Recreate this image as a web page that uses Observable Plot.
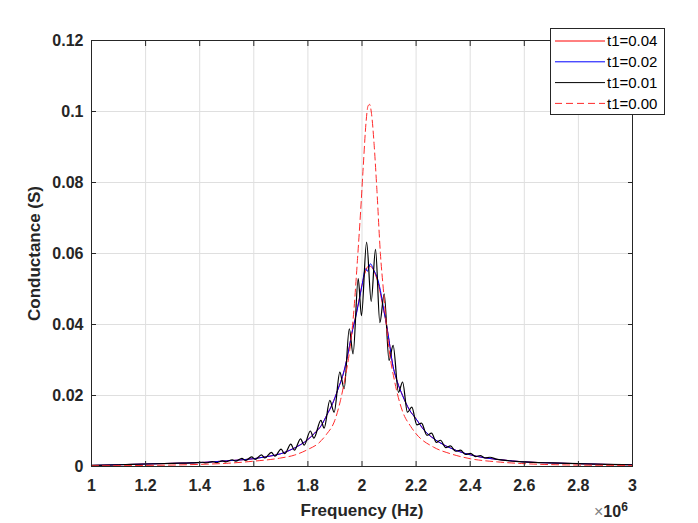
<!DOCTYPE html>
<html><head><meta charset="utf-8">
<script src="https://cdn.jsdelivr.net/npm/d3@7"></script>
<script src="https://cdn.jsdelivr.net/npm/@observablehq/plot@0.6"></script>
<style>
body{margin:0;background:#fff;}
#wrap{position:relative;width:698px;height:523px;font-family:"Liberation Sans",Arial,sans-serif;background:#fff;overflow:hidden;}
#legend{position:absolute;left:550px;top:28px;}
#expo{position:absolute;left:594px;top:501px;font-size:16px;line-height:18px;font-weight:bold;color:#262626;white-space:nowrap;}
#expo .x{font-weight:normal;color:#808080;}
#expo sup{font-size:12px;line-height:12px;vertical-align:6px;}
</style></head><body><div id="wrap"></div>
<script>
// ---- data (frequency in units of 1e6 Hz, conductance in S) ----
const xTicks = [1, 1.2, 1.4, 1.6, 1.8, 2, 2.2, 2.4, 2.6, 2.8, 3];
const xTickLabels = ["1","1.2","1.4","1.6","1.8","2","2.2","2.4","2.6","2.8","3"];
const yTicks = [0, 0.02, 0.04, 0.06, 0.08, 0.1, 0.12];
const yTickLabels = ["0","0.02","0.04","0.06","0.08","0.1","0.12"];

const seriesNames = ["t1=0.04", "t1=0.02", "t1=0.01", "t1=0.00"];
const seriesColors = ["#ff0000", "#0000ff", "#000000", "#ff2a2a"];
const seriesWidths = [1, 1, 1.2, 1];
const seriesDash = [null, null, null, "7,4"];

// t1=0.04 (red, smooth)
const f004 = [1.0,1.1,1.2,1.3,1.4,1.5,1.6,1.65,1.7,1.75,1.8,1.825,1.85,1.87,1.891,1.91,1.934,1.95,1.965,1.975,1.988,2.0,2.013,2.025,2.038,2.05,2.062,2.075,2.09,2.1,2.113,2.13,2.15,2.175,2.2,2.23,2.266,2.3,2.327,2.36,2.4,2.45,2.512,2.6,2.7,2.8,2.9,3.0];
const g004 = [0.0003,0.0005,0.0007,0.0009,0.0011,0.0016,0.0022,0.0028,0.0036,0.0052,0.0076,0.0094,0.0116,0.0145,0.0177,0.0215,0.0270,0.0325,0.0385,0.0418,0.0465,0.0512,0.0550,0.0565,0.0560,0.0540,0.0510,0.0460,0.0402,0.0355,0.0289,0.0240,0.0200,0.0160,0.0134,0.0102,0.0078,0.0062,0.0052,0.0042,0.0033,0.0025,0.0019,0.0013,0.0010,0.0008,0.0006,0.0005];

// t1=0.02 (blue)
const f002 = [1.0,1.1,1.2,1.3,1.4,1.5,1.6,1.65,1.7,1.75,1.8,1.825,1.85,1.87,1.891,1.91,1.934,1.95,1.965,1.975,1.988,2.0,2.013,2.02,2.031,2.044,2.056,2.068,2.081,2.09,2.1,2.113,2.13,2.15,2.175,2.2,2.23,2.266,2.3,2.327,2.36,2.4,2.45,2.512,2.6,2.7,2.8,2.9,3.0];
const g002 = [0.0003,0.0005,0.0007,0.0009,0.0011,0.0016,0.0022,0.0028,0.0036,0.0052,0.0076,0.0094,0.0116,0.0145,0.0177,0.0215,0.0270,0.0325,0.0385,0.0415,0.0463,0.0510,0.0557,0.0550,0.0571,0.0552,0.0533,0.0496,0.0439,0.0402,0.0355,0.0289,0.0240,0.0200,0.0160,0.0134,0.0102,0.0078,0.0062,0.0052,0.0042,0.0033,0.0025,0.0019,0.0013,0.0010,0.0008,0.0006,0.0005];

// t1=0.01 (black, oscillating)
const f001 = [1.0,1.1,1.2,1.3,1.37,
  1.410,1.423,1.448,1.461,1.484,1.497,1.520,1.533,1.556,1.569,1.592,1.605,1.628,1.641,1.665,1.678,
  1.701,1.714,1.737,1.750,1.773,1.786,1.809,1.822,1.848,1.860,1.881,1.897,1.918,1.934,1.953,1.967,
  1.986,1.998,2.017,2.034,2.050,2.066,2.082,2.100,2.115,2.135,2.150,2.168,2.184,2.203,2.220,2.240,
  2.257,2.275,2.290,2.310,2.327,2.346,2.364,2.383,2.401,2.420,2.437,2.455,2.473,
  2.5,2.6,2.7,2.8,2.9,3.0];
const g001 = [0.0003,0.0005,0.0007,0.0009,0.0010,
  0.0012,0.0010,0.0014,0.0011,0.0016,0.0013,0.0019,0.0015,0.0023,0.0017,0.0027,0.0020,0.0033,0.0024,0.0040,0.0029,
  0.0049,0.0036,0.0063,0.0046,0.0078,0.0060,0.0100,0.0080,0.0130,0.0108,0.0186,0.0153,0.0266,0.0219,0.0388,0.0317,
  0.0529,0.0425,0.0632,0.0465,0.0612,0.0405,0.0486,0.0299,0.0341,0.0209,0.0238,0.0153,0.0167,0.0117,0.0122,0.0088,
  0.0094,0.0068,0.0074,0.0053,0.0058,0.0043,0.0046,0.0034,0.0037,0.0028,0.0031,0.0024,0.0026,
  0.0020,0.0013,0.0010,0.0008,0.0006,0.0005];

// t1=0.00 (red dashed)
const f000 = [1.0,1.2,1.4,1.5,1.6,1.7,1.75,1.8,1.84,1.87,1.897,1.92,1.94,1.955,1.97,1.983,1.995,2.005,2.015,2.022,2.028,2.035,2.045,2.055,2.068,2.08,2.09,2.1,2.12,2.15,2.18,2.2,2.266,2.327,2.4,2.5,2.6,2.8,3.0];
const g000 = [0.0002,0.0003,0.0006,0.0009,0.0015,0.0024,0.0032,0.0048,0.0066,0.0092,0.0125,0.0185,0.0260,0.0330,0.0440,0.0580,0.0720,0.0850,0.0970,0.1015,0.1020,0.0995,0.0905,0.0780,0.0600,0.0490,0.0400,0.0330,0.0242,0.0155,0.0113,0.0092,0.0054,0.0036,0.0022,0.0013,0.0008,0.0004,0.0003];

const freqs = [f004, f002, f001, f000];
const conds = [g004, g002, g001, g000];

const rows = (fs, gs) => fs.map((f, i) => ({f, g: gs[i]}));

const lineMarks = seriesNames.map((name, k) =>
  Plot.line(rows(freqs[k], conds[k]), {
    x: "f", y: "g", stroke: seriesColors[k], strokeWidth: seriesWidths[k],
    strokeDasharray: seriesDash[k] || undefined, curve: "monotone-x"
  })
);

const chart = Plot.plot({
  width: 698, height: 523,
  marginLeft: 91, marginRight: 66, marginTop: 40, marginBottom: 57,
  style: {fontFamily: "Liberation Sans, Arial, sans-serif", fontSize: "16px", fontWeight: "bold", color: "#262626", background: "#fff"},
  x: {domain: [1, 3]},
  y: {domain: [0, 0.12]},
  marks: [
    Plot.gridX(xTicks, {stroke: "#dfdfdf", strokeOpacity: 1}),
    Plot.gridY(yTicks, {stroke: "#dfdfdf", strokeOpacity: 1}),
    ...lineMarks,
    Plot.frame({stroke: "#262626"}),
    Plot.axisX(xTicks, {anchor: "bottom", tickSize: -5, tickPadding: 18, tickFormat: (d, i) => xTickLabels[i],
      label: "Frequency (Hz)", labelAnchor: "center", labelArrow: "none", labelOffset: 49}),
    Plot.axisX(xTicks, {anchor: "top", tickSize: -5, tickFormat: () => "", label: null}),
    Plot.axisY(yTicks, {anchor: "left", tickSize: -5, tickPadding: 13, tickFormat: (d, i) => yTickLabels[i],
      label: "Conductance (S)", labelAnchor: "center", labelArrow: "none", labelOffset: 64}),
    Plot.axisY(yTicks, {anchor: "right", tickSize: -5, tickFormat: () => "", label: null})
  ]
});
document.getElementById("wrap").appendChild(chart);

// enlarge axis label text
d3.select(chart).selectAll("g[aria-label='x-axis label'] text, g[aria-label='y-axis label'] text").style("font-size", "17px");

// legend
const lg = d3.select("#wrap").append("svg").attr("id", "legend").attr("width", 116).attr("height", 88);
lg.append("rect").attr("x", 0.5).attr("y", 0.5).attr("width", 114).attr("height", 86).attr("fill", "#fff").attr("stroke", "#262626");
seriesNames.forEach((name, k) => {
  const yy = 13 + k * 20.8;
  lg.append("line").attr("x1", 5).attr("x2", 55).attr("y1", yy).attr("y2", yy)
    .attr("stroke", seriesColors[k]).attr("stroke-width", 1).attr("stroke-dasharray", seriesDash[k]);
  lg.append("text").attr("x", 57).attr("y", yy).attr("dy", "0.35em").attr("font-size", 15)
    .attr("font-family", "Liberation Sans, Arial, sans-serif").attr("fill", "#000").text(name);
});
d3.select("#wrap").append("div").attr("id", "expo").html('<span class="x">×</span>10<sup>6</sup>');
</script></body></html>
